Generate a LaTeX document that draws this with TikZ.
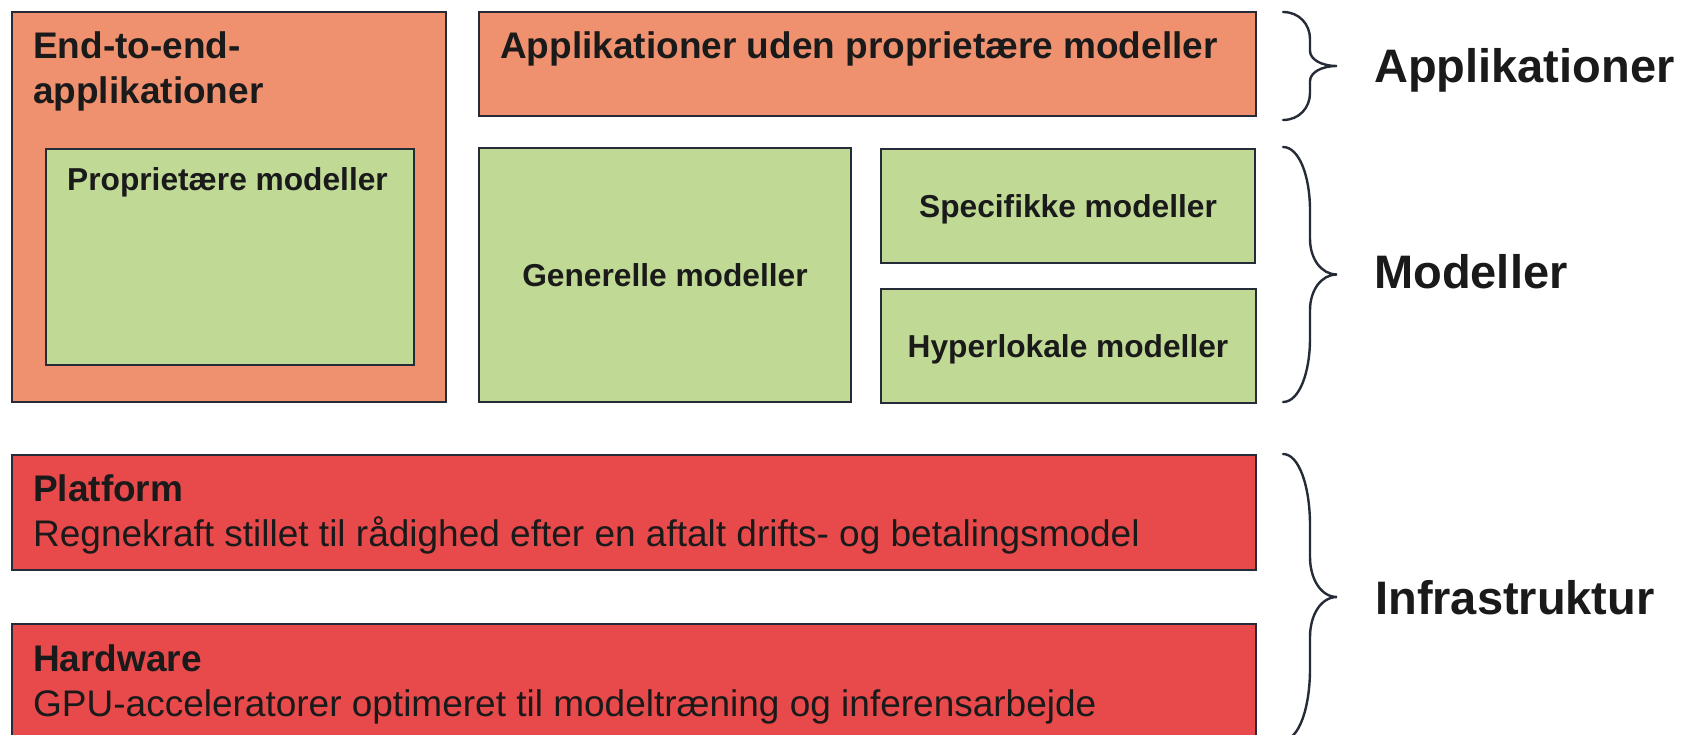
\documentclass[tikz,border=0pt]{standalone}
\usepackage{fontspec}
\setmainfont{Liberation Sans}

\definecolor{edge}{HTML}{252C37}
\definecolor{ink}{HTML}{1A1A1A}
\definecolor{appfill}{HTML}{EF916F}
\definecolor{modfill}{HTML}{C0DA95}
\definecolor{inffill}{HTML}{E8494B}

% curly brace from y=#1 to y=#2 (pixel units), tip pointing right
\newcommand\layerbrace[2]{%
  \pgfmathsetmacro\bt{#1}%
  \pgfmathsetmacro\bb{#2}%
  \pgfmathsetmacro\bm{(#1+#2)/2}%
  \pgfmathsetmacro\ba{0.25*(#2-#1)}%
  \pgfmathsetmacro\bq{0.14*(#2-#1)}%
  \draw[bracestyle]
    (1283,\bt) .. controls (1299,\bt) and (1310,{\bt+0.45*\ba}) .. (1310,{\bt+\ba})
    -- (1310,{\bm-\bq})
    .. controls (1310,{\bm-0.45*\bq}) and (1321,\bm) .. (1337,\bm)
    .. controls (1321,\bm) and (1310,{\bm+0.45*\bq}) .. (1310,{\bm+\bq})
    -- (1310,{\bb-\ba})
    .. controls (1310,{\bb-0.45*\ba}) and (1299,\bb) .. (1283,\bb);%
}

\begin{document}
\begin{tikzpicture}[x=1pt,y=-1pt,
  box/.style={draw=edge, line width=2.4pt, inner sep=0pt, outer sep=0pt, anchor=north west},
  appbox/.style={box, fill=appfill},
  modbox/.style={box, fill=modfill},
  infbox/.style={box, fill=inffill},
  head/.style={inner sep=0pt, anchor=base west, text=ink,
    font=\fontsize{37}{45}\selectfont\bfseries},
  desc/.style={inner sep=0pt, anchor=base west, text=ink,
    font=\fontsize{37}{45}\selectfont},
  modtext/.style={inner sep=0pt, anchor=base, text=ink,
    font=\fontsize{31.7}{38}\selectfont\bfseries},
  layer/.style={inner sep=0pt, anchor=base west, text=ink,
    font=\fontsize{47}{56}\selectfont\bfseries},
  bracestyle/.style={draw=edge, line width=2.4pt, line cap=round}]

\clip (0,0) rectangle (1683,735);
\fill[white] (0,0) rectangle (1683,735);

% application layer
\node[appbox, minimum width=434pt, minimum height=390pt] (e2e) at (12,12) {};
\node[modbox, minimum width=368pt, minimum height=216pt] (prop) at (46,149) {};
\node[appbox, minimum width=777pt, minimum height=104pt] (apps) at (479,12) {};

% base anchor of a two-line node sits on the last line
\node[head, align=left] (e2etxt) at (33,104) {End-to-end-\\applikationer};
\node[modtext, anchor=base west] (proptxt) at (67,191) {Proprietære modeller};
\node[head] (appstxt) at (500,59) {Applikationer uden proprietære modeller};

% model layer
\node[modbox, minimum width=372pt, minimum height=254pt] (gen) at (479,148) {};
\node[modbox, minimum width=374pt, minimum height=114pt] (spec) at (881,149) {};
\node[modbox, minimum width=375pt, minimum height=114pt] (hyper) at (881,289) {};

\node[modtext] (gentxt) at (665,287) {Generelle modeller};
\node[modtext] (spectxt) at (1068,218) {Specifikke modeller};
\node[modtext] (hypertxt) at (1068,357) {Hyperlokale modeller};

% infrastructure layer
\node[infbox, minimum width=1244pt, minimum height=115pt] (plat) at (12,455) {};
\node[infbox, minimum width=1244pt, minimum height=115pt] (hw) at (12,624) {};

\node[head] (plathead) at (33,501) {Platform};
\node[desc] (platdesc) at (33,546) {Regnekraft stillet til rådighed efter en aftalt drifts- og betalingsmodel};
\node[head] (hwhead) at (33,671) {Hardware};
\node[desc] (hwdesc) at (33,716) {GPU-acceleratorer optimeret til modeltræning og inferensarbejde};

% braces and layer names
\layerbrace{12}{120}
\layerbrace{147}{402}
\layerbrace{454}{740}

\node[layer] (lapp) at (1374,83) {Applikationer};
\node[layer] (lmod) at (1374,288) {Modeller};
\node[layer] (linf) at (1375,614) {Infrastruktur};

\end{tikzpicture}
\end{document}
